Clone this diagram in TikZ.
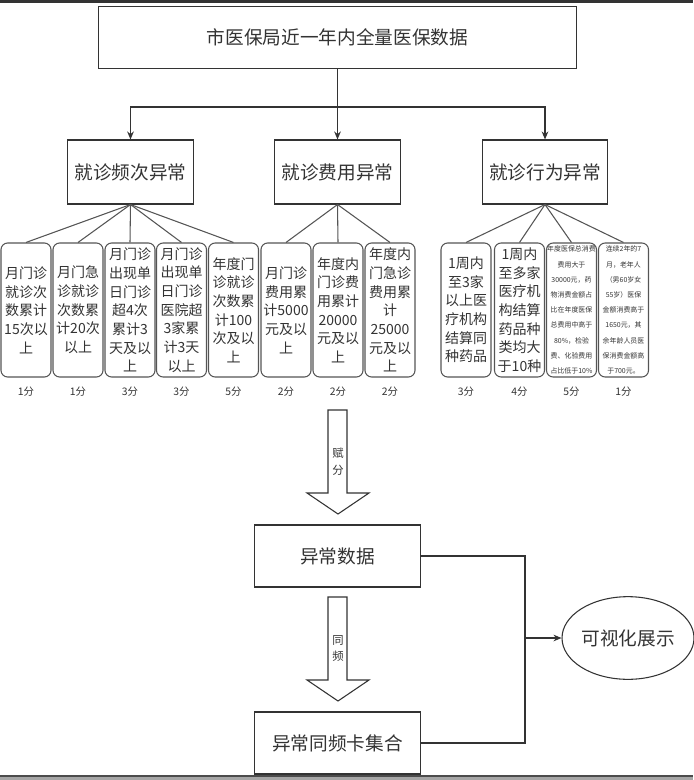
\documentclass[tikz,border=0pt]{standalone}
\usepackage{fontspec}
\setmainfont{Noto Sans CJK SC}
\usetikzlibrary{shapes.geometric,arrows.meta}

\definecolor{ink}{HTML}{333333}
\definecolor{edge}{HTML}{555555}

\tikzset{
  databox/.style={draw=ink, line width=0.8pt, text=ink, minimum width=359pt, minimum height=47pt, inner sep=0pt, font=\fontsize{14}{16}\selectfont},
  catbox/.style={draw=ink, line width=0.8pt, text=ink, minimum width=94pt, minimum height=48pt, inner sep=0pt, font=\fontsize{14}{16}\selectfont},
  rulebox/.style={draw=edge, line width=0.8pt, rounded corners=5pt, text=ink, minimum width=37.5pt, minimum height=100.5pt, inner sep=0pt, align=center, font=\fontsize{10.5}{14}\selectfont},
  tinybox/.style={rulebox, font=\fontsize{5.2}{11.4}\selectfont},
  score/.style={text=ink, font=\fontsize{7.8}{9}\selectfont},
  fan/.style={draw=edge, line width=0.8pt},
  link/.style={draw=ink, line width=0.8pt, -{Stealth[length=6pt,width=5pt]}},
  line/.style={draw=ink, line width=0.8pt},
  block/.style={draw=ink, line width=0.8pt, fill=white, line join=miter},
  tag/.style={text=ink, align=center, font=\fontsize{8.5}{12.7}\selectfont},
  resultbox/.style={draw=ink, line width=0.8pt, text=ink, minimum width=125pt, minimum height=46.5pt, inner sep=0pt, font=\fontsize{14}{16}\selectfont}
}

\begin{document}
\begin{tikzpicture}[x=0.75pt, y=-0.75pt]
\useasboundingbox (0,0) rectangle (693,780);
\fill[black!80] (0,0) rectangle (693,3);
\fill[black!70] (0,775) rectangle (693,777);
\fill[black!35] (0,777) rectangle (693,780);

% source and the three kinds of anomaly
\node[databox] (source) at (337.5,37.5) {市医保局近一年内全量医保数据};
\node[catbox] (freq) at (130.5,172) {就诊频次异常};
\node[catbox] (cost) at (337.5,172) {就诊费用异常};
\node[catbox] (act) at (545,172) {就诊行为异常};
\draw[line] (source.south) -- (337.5,107) coordinate (split);
\draw[link] (split) -| (freq.north);
\draw[link] (split) -- (cost.north);
\draw[link] (split) -| (act.north);

% rules for visit frequency
\node[rulebox] (r1) at (26,310) {月门诊\\就诊次\\数累计\\15次以\\上};
\node[rulebox] (r2) at (78,310) {月门急\\诊就诊\\次数累\\计20次\\以上};
\node[rulebox] (r3) at (130,310) {月门诊\\出现单\\日门诊\\超4次\\累计3\\天及以\\上};
\node[rulebox] (r4) at (181.5,310) {月门诊\\出现单\\日门诊\\医院超\\3家累\\计3天\\以上};
\node[rulebox] (r5) at (233.5,310) {年度门\\诊就诊\\次数累\\计100\\次及以\\上};
\foreach \r in {r1,r2,r3,r4,r5} \draw[fan] (freq.south) -- (\r.north);

% rules for visit cost
\node[rulebox] (r6) at (286,310) {月门诊\\费用累\\计5000\\元及以\\上};
\node[rulebox] (r7) at (338,310) {年度内\\门诊费\\用累计\\20000\\元及以\\上};
\node[rulebox] (r8) at (390,310) {年度内\\门急诊\\费用累\\计\\25000\\元及以\\上};
\foreach \r in {r6,r7,r8} \draw[fan] (cost.south) -- (\r.north);

% rules for visit behaviour
\node[rulebox] (r9) at (466,310) {1周内\\至3家\\以上医\\疗机构\\结算同\\种药品};
\node[rulebox] (r10) at (519.5,310) {1周内\\至多家\\医疗机\\构结算\\药品种\\类均大\\于10种};
\node[tinybox] (r11) at (571.5,310) {年度医保总消费\\费用大于\\30000元，药\\物消费金额占\\比在年度医保\\总费用中高于\\80\%，检验\\费、化验费用\\占比低于10\%};
\node[tinybox] (r12) at (623.5,310) {连续2年的7\\月，老年人\\（男60岁女\\55岁）医保\\金额消费高于\\1650元，其\\余年龄人员医\\保消费金额高\\于700元。};
\foreach \r in {r9,r10,r11,r12} \draw[fan] (act.south) -- (\r.north);

% scores
\node[score] (s1) at (26,392) {1分};
\node[score] (s2) at (78,392) {1分};
\node[score] (s3) at (130,392) {3分};
\node[score] (s4) at (181.5,392) {3分};
\node[score] (s5) at (233.5,392) {5分};
\node[score] (s6) at (286,392) {2分};
\node[score] (s7) at (338,392) {2分};
\node[score] (s8) at (390,392) {2分};
\node[score] (s9) at (466,392) {3分};
\node[score] (s10) at (519.5,392) {4分};
\node[score] (s11) at (571.5,392) {5分};
\node[score] (s12) at (623.5,392) {1分};

% results
\node[resultbox] (data) at (337.5,556) {异常数据};
\node[resultbox] (cards) at (337.5,743) {异常同频卡集合};
\node[ellipse, draw=ink, line width=0.8pt, text=ink, minimum width=95pt, minimum height=62pt, inner sep=0pt, font=\fontsize{14}{16}\selectfont] (viz) at (628,638) {可视化展示};

\draw[block] (328,410) -- (347,410) -- (347,493) -- (369,493) -- (338,514) -- (307,493) -- (328,493) -- cycle;
\node[tag] (score) at (338,461.5) {赋\\分};
\draw[block] (328,597) -- (347,597) -- (347,680) -- (369,680) -- (338,701) -- (307,680) -- (328,680) -- cycle;
\node[tag] (same) at (338,648.5) {同\\频};

\coordinate (join) at (525,638);
\draw[line] (data.east) -| (join);
\draw[line] (cards.east) -| (join);
\draw[link] (join) -- (viz.west);
\end{tikzpicture}
\end{document}
